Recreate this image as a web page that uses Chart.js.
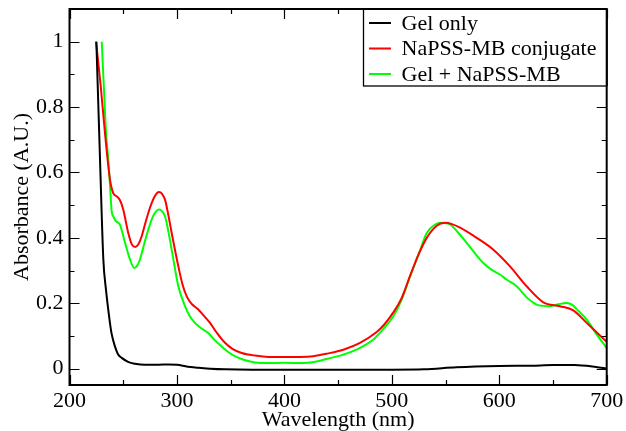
<!DOCTYPE html>
<html><head><meta charset="utf-8">
<script src="https://cdn.jsdelivr.net/npm/chart.js@4.4.0/dist/chart.umd.min.js"></script>
<style>html,body{margin:0;padding:0;background:#fff;overflow:hidden}</style>
</head><body>
<canvas id="c" width="626" height="431"></canvas>
<script>
const seriesNames = ["Gel only", "NaPSS-MB conjugate", "Gel + NaPSS-MB"];
const seriesColors = ["#000000", "#ff0000", "#00ff00"];

const gelWl  = [225, 228.4, 231.5, 234, 236.1, 239, 242.3, 245, 248.6, 255, 261, 270, 283, 292, 300, 310, 320, 331, 345, 370, 400, 450, 500, 530, 560, 600, 630, 650, 670, 690, 700];
const gelAbs = [1.0, 0.64, 0.334, 0.24, 0.18, 0.11, 0.068, 0.045, 0.033, 0.02, 0.015, 0.012, 0.012, 0.013, 0.012, 0.006, 0.003, 0.0, -0.002, -0.003, -0.003, -0.003, -0.003, -0.002, 0.004, 0.008, 0.009, 0.011, 0.011, 0.005, 0.0];

const conjWl  = [224.7, 229, 233, 237.7, 240.8, 243.9, 247, 250, 254.7, 258, 261, 264, 267.2, 271, 274.9, 279, 283.3, 286, 288.9, 292, 295.1, 301.3, 305, 309.1, 314, 319.9, 325, 330.8, 337, 344.7, 352, 360.3, 372.6, 385, 400, 415, 427, 440, 454.8, 470.4, 485.9, 493, 501.4, 509, 516.9, 525, 532.5, 541.8, 549.5, 556, 563.5, 579, 594.5, 610, 625.5, 641, 656.5, 668.9, 681.4, 691, 700];
const conjAbs = [1.0, 0.866, 0.721, 0.578, 0.536, 0.527, 0.515, 0.487, 0.415, 0.38, 0.372, 0.38, 0.405, 0.45, 0.492, 0.525, 0.54, 0.535, 0.517, 0.47, 0.415, 0.313, 0.26, 0.221, 0.197, 0.181, 0.162, 0.14, 0.11, 0.079, 0.06, 0.048, 0.04, 0.036, 0.036, 0.036, 0.038, 0.046, 0.058, 0.079, 0.112, 0.135, 0.172, 0.215, 0.283, 0.35, 0.40, 0.437, 0.446, 0.442, 0.431, 0.40, 0.364, 0.313, 0.252, 0.203, 0.191, 0.178, 0.14, 0.11, 0.082];

const mixWl  = [230, 232, 234, 236.1, 237.7, 239.3, 241, 243, 247, 251.7, 256.3, 260.3, 263, 265.6, 269, 273.3, 278, 283.3, 286, 288.9, 292, 295.1, 301.3, 307.5, 312, 316.8, 322, 329.2, 335, 341.6, 348, 354, 362, 372.6, 385, 400, 416, 430, 440, 454.8, 467, 482.8, 493, 501.4, 509, 517, 525, 532.5, 540, 545.5, 554.2, 562, 569.7, 578, 585.2, 593, 600.7, 607, 616.2, 625.5, 634.8, 641, 647.2, 655, 662.8, 668, 672, 681.4, 690, 700];
const mixAbs = [1.0, 0.86, 0.721, 0.64, 0.56, 0.48, 0.465, 0.452, 0.44, 0.385, 0.334, 0.308, 0.315, 0.334, 0.375, 0.425, 0.468, 0.487, 0.482, 0.466, 0.42, 0.364, 0.252, 0.191, 0.16, 0.14, 0.125, 0.109, 0.088, 0.068, 0.05, 0.038, 0.027, 0.019, 0.017, 0.018, 0.017, 0.022, 0.03, 0.043, 0.058, 0.089, 0.125, 0.16, 0.21, 0.283, 0.35, 0.415, 0.44, 0.446, 0.441, 0.415, 0.385, 0.35, 0.323, 0.302, 0.288, 0.272, 0.252, 0.218, 0.196, 0.192, 0.191, 0.197, 0.201, 0.195, 0.182, 0.15, 0.108, 0.063];

const xTicks = [200, 300, 400, 500, 600, 700];
const xMinor = [250, 350, 450, 550, 650];
const yTicks = [0, 0.2, 0.4, 0.6, 0.8, 1];
const yMinor = [0.1, 0.3, 0.5, 0.7, 0.9];
const xTitle = "Wavelength (nm)";
const yTitle = "Absorbance (A.U.)";

const FONT = "'Liberation Serif', 'Times New Roman', serif";
const toPts = (xs, ys) => xs.map((x, i) => ({x: x, y: ys[i]}));

const series = [toPts(gelWl, gelAbs), toPts(conjWl, conjAbs), toPts(mixWl, mixAbs)];

const framePlugin = {
  id: 'frame',
  afterDatasetsDraw(chart) {
    const ctx = chart.ctx;
    const a = chart.chartArea;
    const xs = chart.scales.x, ys = chart.scales.y;
    ctx.save();
    ctx.strokeStyle = '#000';
    ctx.lineWidth = 1.2;
    ctx.beginPath();
    const tick = (v, len, horiz) => {
      if (horiz) {
        const px = Math.round(xs.getPixelForValue(v)) + 0.5;
        ctx.moveTo(px, a.bottom); ctx.lineTo(px, a.bottom - len);
        ctx.moveTo(px, a.top); ctx.lineTo(px, a.top + len);
      } else {
        const py = Math.round(ys.getPixelForValue(v)) + 0.5;
        ctx.moveTo(a.left, py); ctx.lineTo(a.left + len, py);
        ctx.moveTo(a.right, py); ctx.lineTo(a.right - len, py);
      }
    };
    xTicks.forEach(v => tick(v, 10, true));
    xMinor.forEach(v => tick(v, 5, true));
    yTicks.forEach(v => tick(v, 10, false));
    yMinor.forEach(v => tick(v, 5, false));
    ctx.stroke();
    ctx.lineWidth = 2;
    ctx.strokeRect(a.left, a.top, a.right - a.left, a.bottom - a.top);

    // legend
    const lx = 363.5, ly = a.top, lw = a.right - lx, lh = 77;
    ctx.fillStyle = '#fff';
    ctx.fillRect(lx, ly, lw, lh);
    ctx.lineWidth = 1.3;
    ctx.strokeRect(lx, ly, lw, lh);
    ctx.lineWidth = 2;
    ctx.beginPath(); ctx.moveTo(lx, a.top); ctx.lineTo(a.right, a.top); ctx.moveTo(a.right, a.top); ctx.lineTo(a.right, ly + lh); ctx.stroke();
    ctx.font = "22px " + FONT;
    ctx.textBaseline = 'middle';
    ctx.textAlign = 'left';
    seriesNames.forEach((n, i) => {
      const cy = a.top + 14 + i * 25.5;
      ctx.strokeStyle = seriesColors[i];
      ctx.lineWidth = 2;
      ctx.beginPath(); ctx.moveTo(369, cy); ctx.lineTo(391, cy); ctx.stroke();
      ctx.fillStyle = '#000';
      ctx.fillText(n, 401.5, cy + 1);
    });
    ctx.restore();
  }
};

new Chart(document.getElementById('c'), {
  type: 'line',
  data: {
    datasets: series.map((d, i) => ({
      label: seriesNames[i],
      data: d,
      borderColor: seriesColors[i],
      borderWidth: 2,
      pointRadius: 0,
      fill: false,
      cubicInterpolationMode: 'monotone'
    }))
  },
  options: {
    responsive: false,
    animation: false,
    devicePixelRatio: 1,
    layout: { padding: { top: 9, right: 19.3, left: 0, bottom: 0 } },
    plugins: { legend: { display: false }, tooltip: { enabled: false } },
    scales: {
      x: {
        type: 'linear', min: 200, max: 700,
        afterBuildTicks: s => { s.ticks = xTicks.map(v => ({value: v})); },
        afterFit: s => { s.height = 46; s.paddingLeft = 0; s.paddingRight = 0; },
        grid: { display: false, drawTicks: false },
        border: { display: false },
        ticks: { color: '#000', padding: 3, font: { family: FONT, size: 22 }, maxRotation: 0, callback: v => String(v) },
        title: { display: true, text: xTitle, color: '#000', font: { family: FONT, size: 22, lineHeight: 1 }, padding: { top: 0, bottom: 0 } }
      },
      y: {
        type: 'linear', min: -0.05, max: 1.1,
        afterBuildTicks: s => { s.ticks = yTicks.map(v => ({value: v})); },
        afterFit: s => { s.width = 69.5; s.paddingTop = 0; s.paddingBottom = 0; },
        grid: { display: false, drawTicks: false },
        border: { display: false },
        ticks: { color: '#000', padding: 6, font: { family: FONT, size: 22 }, callback: v => String(Math.round(v * 10) / 10) },
        title: { display: true, text: yTitle, color: '#000', font: { family: FONT, size: 22, lineHeight: 1 }, padding: { top: 11, bottom: 0 } }
      }
    }
  },
  plugins: [framePlugin]
});
</script>
</body></html>
